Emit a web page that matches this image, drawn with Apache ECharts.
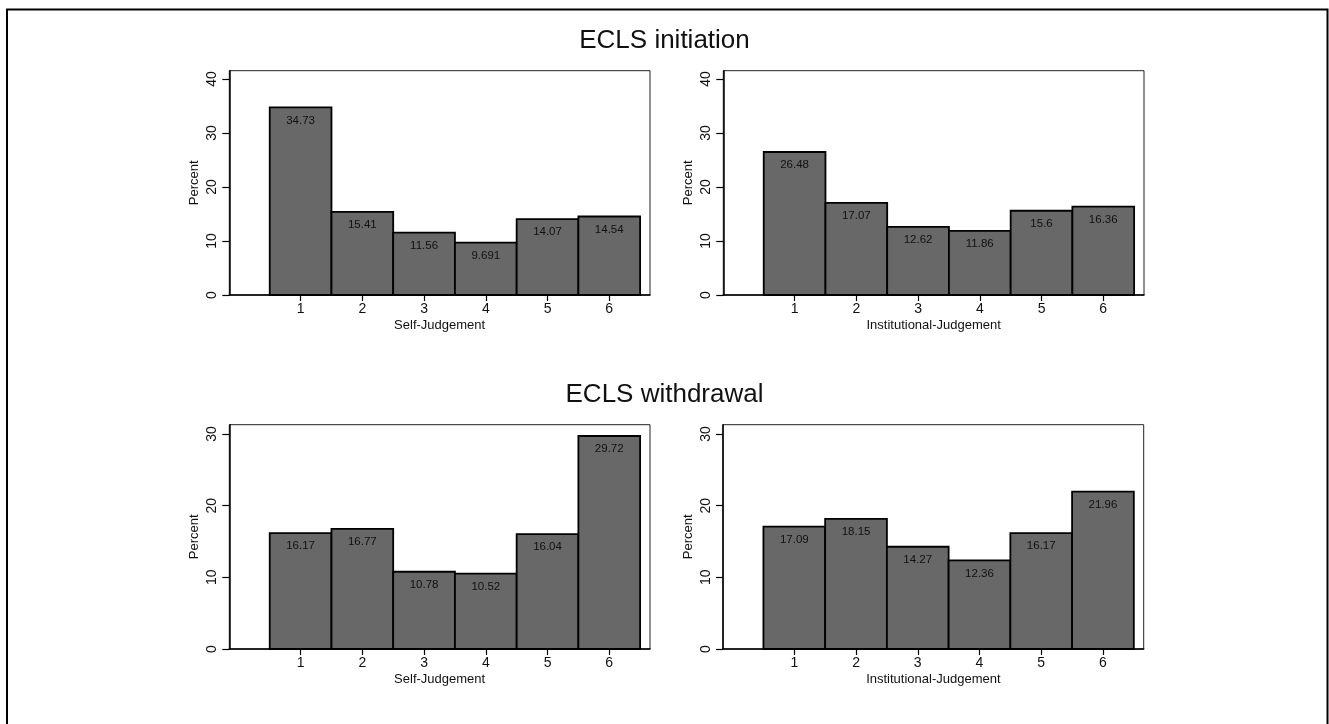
<!DOCTYPE html>
<html>
<head>
<meta charset="utf-8">
<script src="https://cdn.jsdelivr.net/npm/echarts@6/dist/echarts.min.js"></script>
<style>
html,body{margin:0;padding:0;background:#fff;}
#chart{width:1329px;height:724px;}
</style>
</head>
<body>
<div id="chart"></div>
<script>
// ---- data ----
var categories = [1, 2, 3, 4, 5, 6];
var initiationSelf = [34.73, 15.41, 11.56, 9.691, 14.07, 14.54];
var initiationInstitutional = [26.48, 17.07, 12.62, 11.86, 15.6, 16.36];
var withdrawalSelf = [16.17, 16.77, 10.78, 10.52, 16.04, 29.72];
var withdrawalInstitutional = [17.09, 18.15, 14.27, 12.36, 16.17, 21.96];
var topTicks = [0, 10, 20, 30, 40];
var bottomTicks = [0, 10, 20, 30];
var sectionTitles = ['ECLS initiation', 'ECLS withdrawal'];
var xTitles = ['Self-Judgement', 'Institutional-Judgement'];
var yTitle = 'Percent';

var FONT = '"Liberation Sans", Arial, Helvetica, sans-serif';

var panels = [
  {vals: initiationSelf, left: 229.3, top: 70.7, ymax: 41.54, yt: topTicks, xname: xTitles[0]},
  {vals: initiationInstitutional, left: 723.3, top: 70.7, ymax: 41.54, yt: topTicks, xname: xTitles[1]},
  {vals: withdrawalSelf, left: 229.3, top: 424.7, ymax: 31.3, yt: bottomTicks, xname: xTitles[0]},
  {vals: withdrawalInstitutional, left: 723, top: 424.7, ymax: 31.3, yt: bottomTicks, xname: xTitles[1]}
];

var grids = [], xAxes = [], yAxes = [], series = [];
panels.forEach(function (p, i) {
  grids.push({
    left: p.left, top: p.top, width: 420.7, height: 224.3,
    show: true, borderColor: '#222', borderWidth: 1, backgroundColor: '#fff',
    containLabel: false, outerBoundsMode: 'none'
  });
  xAxes.push({
    type: 'value', gridIndex: i, min: -0.155, max: 6.66,
    splitLine: {show: false},
    axisLine: {show: true, onZero: false, lineStyle: {color: '#000', width: 1.5}},
    axisTick: {show: true, length: 6, customValues: categories, lineStyle: {color: '#000', width: 1.2}},
    axisLabel: {show: true, customValues: categories, margin: 7, fontSize: 14, color: '#111', fontFamily: FONT},
    name: p.xname, nameLocation: 'middle', nameGap: 24,
    nameTextStyle: {fontSize: 13, color: '#111', fontFamily: FONT}
  });
  yAxes.push({
    type: 'value', gridIndex: i, min: 0, max: p.ymax,
    splitLine: {show: false},
    axisLine: {show: true, onZero: false, lineStyle: {color: '#000', width: 1.5}},
    axisTick: {show: true, length: 7, customValues: p.yt, lineStyle: {color: '#000', width: 1.2}},
    axisLabel: {show: true, customValues: p.yt, rotate: 90, margin: 10, fontSize: 14, color: '#111', fontFamily: FONT},
    name: yTitle, nameLocation: 'middle', nameGap: 28, nameRotate: 90,
    nameTextStyle: {fontSize: 13, color: '#111', fontFamily: FONT}
  });
  series.push({
    type: 'custom', xAxisIndex: i, yAxisIndex: i,
    data: categories.map(function (c, k) { return [c, p.vals[k]]; }),
    renderItem: function (params, api) {
      var x = api.value(0), y = api.value(1);
      var tl = api.coord([x - 0.5, y]);
      var br = api.coord([x + 0.5, 0]);
      return {
        type: 'group',
        children: [
          {type: 'rect', shape: {x: tl[0], y: tl[1], width: br[0] - tl[0], height: br[1] - tl[1]},
           style: {fill: '#686868', stroke: '#000', lineWidth: 1.8}},
          {type: 'text', x: (tl[0] + br[0]) / 2, y: tl[1] + 13,
           style: {text: String(y), fill: '#111', fontSize: 11.5, fontFamily: FONT, align: 'center', verticalAlign: 'middle'}}
        ]
      };
    }
  });
});

var chart = echarts.init(document.getElementById('chart'), null, {renderer: 'canvas'});
chart.setOption({
  animation: false,
  backgroundColor: '#fff',
  title: [
    {text: sectionTitles[0], left: 'center', top: 23, textStyle: {fontSize: 26, fontWeight: 'normal', color: '#111', fontFamily: FONT}},
    {text: sectionTitles[1], left: 'center', top: 377, textStyle: {fontSize: 26, fontWeight: 'normal', color: '#111', fontFamily: FONT}}
  ],
  graphic: [
    {type: 'rect', shape: {x: 7, y: 9.5, width: 1320.5, height: 800}, style: {fill: 'none', stroke: '#000', lineWidth: 2}, silent: true}
  ],
  grid: grids,
  xAxis: xAxes,
  yAxis: yAxes,
  series: series
});
</script>
</body>
</html>
